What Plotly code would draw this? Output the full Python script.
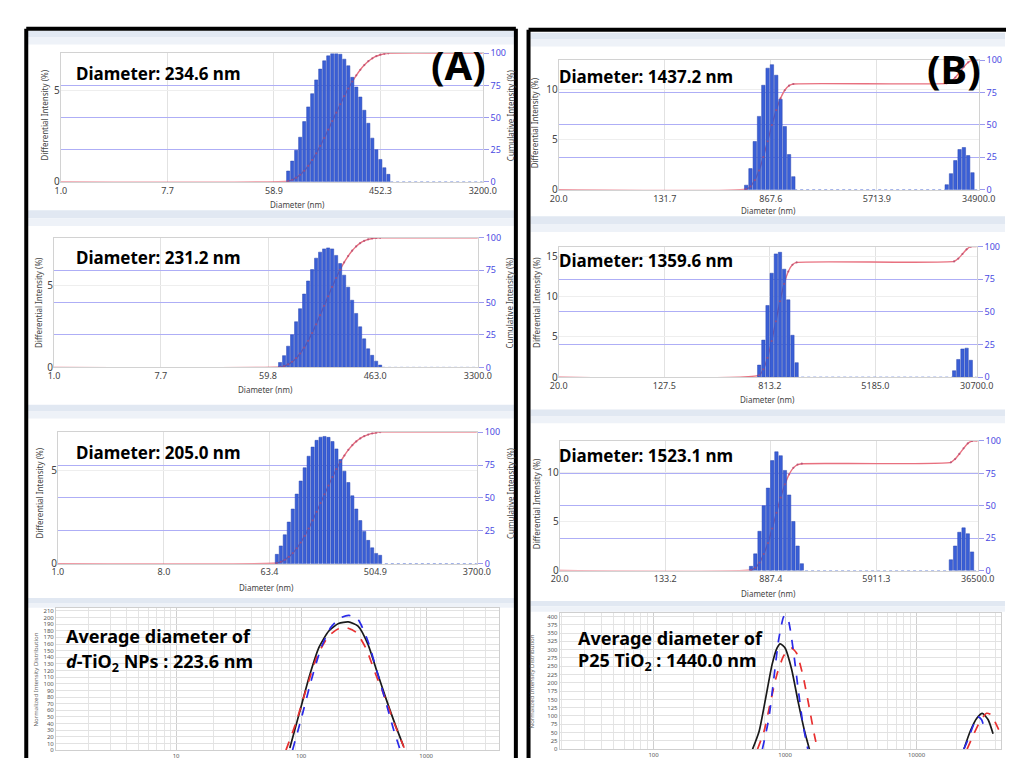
import numpy as np
import plotly.graph_objects as go

W, H = 1014, 758

# ---------------- data ----------------
# Panel A : d-TiO2 NPs, three DLS runs (bin centre diameter in nm, differential intensity %)
a1_diam = [77.4, 83.6, 90.2, 97.4, 105.2, 113.6, 122.6, 132.4, 142.9, 154.3, 166.6, 179.9, 194.2,
           209.7, 226.4, 244.4, 263.9, 284.9, 307.6, 332.1, 358.6, 387.1, 418.0, 451.3, 487.2, 526.1]
a1_int = [0.59, 1.13, 1.72, 2.43, 3.28, 4.08, 4.80, 5.55, 6.14, 6.59, 6.86, 6.98, 6.98,
          6.95, 6.68, 6.32, 5.69, 5.16, 4.62, 3.90, 3.19, 2.38, 1.75, 1.22, 0.77, 0.41]
a1_xticks = ["1.0", "7.7", "58.9", "452.3", "3200.0"]
a1_label = "Diameter: 234.6 nm"

a2_diam = [75.3, 81.3, 87.8, 94.7, 102.3, 110.4, 119.2, 128.6, 138.9, 149.9, 161.8, 174.7, 188.6,
           203.5, 219.7, 237.2, 256.0, 276.4, 298.3, 322.0, 347.6, 375.3, 405.1, 437.3, 472.1, 509.6]
a2_int = [0.30, 0.72, 1.30, 2.00, 2.80, 3.60, 4.50, 5.30, 6.00, 6.70, 7.07, 7.27, 7.33,
          7.27, 6.87, 6.37, 5.66, 4.92, 4.12, 3.31, 2.49, 1.75, 1.14, 0.74, 0.38, 0.14]
a2_xticks = ["1.0", "7.7", "59.8", "463.0", "3300.0"]
a2_label = "Diameter: 231.2 nm"

a3_diam = [73.2, 79.1, 85.5, 92.5, 100.0, 108.1, 116.8, 126.3, 136.5, 147.6, 159.5, 172.5, 186.4, 201.5,
           217.9, 235.5, 254.6, 275.2, 297.5, 321.6, 347.6, 375.8, 406.2, 439.1, 474.7, 513.2, 554.7]
a3_int = [0.50, 0.95, 1.55, 2.23, 2.93, 3.73, 4.43, 5.14, 5.76, 6.25, 6.61, 6.78, 6.82, 6.77,
          6.55, 6.15, 5.58, 4.96, 4.35, 3.64, 2.93, 2.31, 1.73, 1.25, 0.85, 0.55, 0.45]
a3_xticks = ["1.0", "8.0", "63.4", "504.9", "3700.0"]
a3_label = "Diameter: 205.0 nm"

# Panel B : P25 TiO2, three DLS runs (two populations each)
b1_diam_main = [559.8, 604.1, 652.0, 703.6, 759.3, 819.4, 884.3, 954.4, 1030, 1111, 1199, 1294]
b1_int_main = [0.45, 2.1, 4.8, 7.3, 10.4, 12.1, 12.45, 11.4, 9.0, 6.3, 3.5, 1.3]
b1_diam_agg = [19770, 21340, 23030, 24850, 26820, 28940, 31230]
b1_int_agg = [0.5, 1.6, 2.9, 4.0, 4.2, 3.4, 1.7]
b1_xticks = ["20.0", "131.7", "867.6", "5713.9", "34900.0"]
b1_label = "Diameter: 1437.2 nm"

b2_diam_main = [674.5, 725.6, 780.5, 839.6, 903.2, 971.6, 1045, 1124, 1209, 1301]
b2_int_main = [1.5, 4.6, 8.9, 12.9, 15.3, 15.5, 13.4, 9.6, 5.2, 1.8]
b2_diam_agg = [20650, 22210, 23890, 25700, 27650]
b2_int_agg = [0.8, 2.2, 3.5, 3.6, 2.1]
b2_xticks = ["20.0", "127.5", "813.2", "5185.0", "30700.0"]
b2_label = "Diameter: 1359.6 nm"

b3_diam_main = [622.3, 671.4, 724.4, 781.5, 843.2, 909.7, 981.5, 1059, 1143, 1233, 1330, 1435, 1548]
b3_int_main = [0.43, 1.7, 4.0, 6.6, 8.4, 11.2, 12.1, 11.7, 10.2, 7.7, 5.0, 2.5, 0.7]
b3_diam_agg = [22540, 24320, 26240, 28310, 30540, 32950]
b3_int_agg = [1.1, 2.5, 3.9, 4.35, 3.75, 1.9]
b3_xticks = ["20.0", "133.2", "887.4", "5911.3", "36500.0"]
b3_label = "Diameter: 1523.1 nm"

# Averaged distributions (normalized intensity)
a_avg_black_d = [81.2, 97.2, 116.2, 139.1, 166.5, 199.2, 238.5, 285.2, 341.2, 408.2, 488.5, 567.2, 659.0]
a_avg_black_y = [3.4, 57.3, 111.1, 155.2, 179.6, 190.9, 193.3, 187.0, 160.1, 116.0, 72.0, 37.7, 5.9]
a_avg_blue_d = [85.3, 100.2, 119.9, 143.5, 171.7, 205.4, 241.3, 285.2, 341.2, 408.2, 488.5, 550.3, 620.6]
a_avg_blue_y = [0, 47.5, 103.8, 152.7, 184.5, 199.2, 203.1, 196.8, 165.0, 116.0, 64.6, 30.3, 0]
a_avg_red_d = [75.6, 90.4, 109.6, 135.0, 166.5, 199.2, 231.4, 276.8, 331.1, 396.1, 474.0, 550.3, 678.9]
a_avg_red_y = [0, 40.1, 91.5, 142.9, 172.3, 183.1, 184.5, 177.2, 152.7, 113.6, 76.8, 42.6, 0]
a_avg_xticks = ["1", "10", "100", "1000"]

b_avg_black_d = [566, 635, 711, 797, 868, 919, 1000, 1121, 1257, 1407, 1531]
b_avg_black_y = [0, 54.1, 152.3, 255.5, 304.7, 317.4, 304.7, 240.8, 142.5, 54.1, 0]
b_avg_black_d2 = [22860, 25550, 28660, 31550, 34970, 38090]
b_avg_black_y2 = [0, 54.1, 93.4, 108.1, 88.5, 46.2]
b_avg_blue_d = [672, 753, 820, 893, 972, 1000, 1059, 1153, 1257, 1368, 1489]
b_avg_blue_y = [0, 93.4, 211.3, 329.2, 398.0, 402.9, 388.2, 299.8, 181.8, 73.7, 0]
b_avg_blue_d2 = [22860, 24890, 27080, 29140, 31170, 33010]
b_avg_blue_y2 = [0, 34.4, 73.7, 98.3, 88.5, 54.1]
b_avg_red_d = [617, 692, 775, 868, 972, 1059, 1121, 1221, 1368, 1531, 1667, 1766]
b_avg_red_y = [0, 54.1, 142.5, 226.0, 280.1, 299.8, 304.7, 289.9, 221.1, 122.9, 44.2, 0]
b_avg_red_d2 = [24180, 27080, 30290, 33960, 37010, 40350, 43880]
b_avg_red_y2 = [0, 44.2, 83.5, 108.1, 103.2, 73.7, 44.2]
b_avg_xticks = ["100", "1000", "10000"]

# ---------------- helpers ----------------
FONT = "Noto Sans"
fig = go.Figure()
layout = {}
annotations = []
shapes = []


def X(p):
    return p / W


def Y(p):
    return 1 - p / H


def yname(n):
    return 'y' if n == 1 else f'y{n}'


def xname(n):
    return 'x' if n == 1 else f'x{n}'


def key(prefix, n):
    return prefix if n == 1 else f'{prefix}{n}'


def ann(text, xp, yp, size, xanchor='left', color='black', angle=0, family=FONT):
    annotations.append(dict(text=text, x=X(xp), y=Y(yp), xref='paper', yref='paper',
                            xanchor=xanchor, yanchor='middle', showarrow=False, textangle=angle,
                            font=dict(size=size, color=color, family=family)))


def hist_panel(k, groups, xticks, ymax, box, label, label_pos, xtitle_pos, ytitle_pos, rtitle_pos=None):
    xid = k + 1
    yb, yd, ym = 3 * k + 1, 3 * k + 2, 3 * k + 3
    xv = [np.log10(float(t)) for t in xticks]
    xmin, xmax = xv[0], xv[-1]
    diam = np.concatenate([np.asarray(g[0], float) for g in groups])
    inten = np.concatenate([np.asarray(g[1], float) for g in groups])
    lx = np.log10(diam)
    cum = np.cumsum(inten) / inten.sum() * 100

    fig.add_trace(go.Scatter(x=np.r_[xmin, lx, xmax], y=np.r_[0, cum, 100], xaxis=xname(xid), yaxis=yname(yb),
                             mode='lines', line=dict(color='#e8707f', width=1.4, shape='spline', smoothing=0.5),
                             showlegend=False, hoverinfo='skip'))
    fig.add_trace(go.Bar(x=lx, y=inten, xaxis=xname(xid), yaxis=yname(yd),
                         marker=dict(color='#3a5fd6', line=dict(color='#2a47b0', width=0.5)),
                         showlegend=False))
    fig.add_trace(go.Scatter(x=[lx[0], xmax], y=[0, 0], xaxis=xname(xid), yaxis=yname(yd), mode='lines',
                             line=dict(color='#6a84da', width=1, dash='dot'), showlegend=False, hoverinfo='skip'))
    fig.add_trace(go.Scatter(x=lx, y=cum, xaxis=xname(xid), yaxis=yname(ym), mode='markers',
                             marker=dict(size=2.2, color='#b04a70', opacity=0.75), showlegend=False))

    x0, x1, y0, y1 = box
    layout[key('xaxis', xid)] = dict(domain=[X(x0), X(x1)], range=[xmin, xmax], tickvals=xv, ticktext=xticks,
                                     anchor=yname(yb), showgrid=True, gridcolor='#e2e2e2', zeroline=False,
                                     showline=True, linecolor='#d2d2d2', mirror=True, ticks='',
                                     tickfont=dict(size=9, color='#444', family=FONT))
    layout[key('yaxis', yb)] = dict(domain=[Y(y1), Y(y0)], range=[0, 100], tickvals=[0, 25, 50, 75, 100],
                                    side='right', anchor=xname(xid), showgrid=True, gridcolor='#aeaef6',
                                    gridwidth=1.3, zeroline=False, showline=True, linecolor='#d2d2d2',
                                    mirror=True, ticks='outside', ticklen=5, tickcolor='#9a9aee',
                                    tickfont=dict(size=9, color='#4a4ae2', family=FONT))
    layout[key('yaxis', yd)] = dict(overlaying=yname(yb), anchor=xname(xid), side='left', range=[0, ymax],
                                    dtick=5, showgrid=True, gridcolor='#eeeeee', zeroline=False,
                                    showline=False, ticks='', tickfont=dict(size=10, color='#444', family=FONT))
    layout[key('yaxis', ym)] = dict(overlaying=yname(yb), anchor=xname(xid), range=[0, 100], visible=False)

    ann('<b>' + label + '</b>', label_pos[0], label_pos[1], 17)
    ann('Diameter (nm)', xtitle_pos[0], xtitle_pos[1], 8, xanchor='center', color='#444')
    ann('Differential Intensity (%)', ytitle_pos[0], ytitle_pos[1], 8, xanchor='center', color='#444', angle=-90)
    if rtitle_pos is not None:
        ann('Cumulative Intensity (%)', rtitle_pos[0], rtitle_pos[1], 8, xanchor='center', color='#444', angle=-90)


def avg_panel(xid, yid, curves, box, xrange, yrange, ydtick, xticks, ytitle_x):
    for d, v, color, dash in curves:
        fig.add_trace(go.Scatter(x=d, y=v, xaxis=xname(xid), yaxis=yname(yid), mode='lines',
                                 line=dict(color=color, width=1.7, dash=dash, shape='spline', smoothing=0.6),
                                 connectgaps=False, showlegend=False))
    x0, x1, y0, y1 = box
    minor_vals = [m * 10 ** e for e in range(0, 5) for m in range(2, 10)]
    layout[key('xaxis', xid)] = dict(type='log', domain=[X(x0), X(x1)], range=xrange,
                                     tickvals=[float(t) for t in xticks], ticktext=xticks, anchor=yname(yid),
                                     showgrid=True, gridcolor='#cfcfcf', zeroline=False, showline=True,
                                     linecolor='#cfcfcf', mirror=True, ticks='',
                                     minor=dict(tickvals=minor_vals, showgrid=True, gridcolor='#e4e4e4', ticks=''),
                                     tickfont=dict(size=6, color='#555', family=FONT))
    layout[key('yaxis', yid)] = dict(domain=[Y(y1), Y(y0)], range=yrange, dtick=ydtick, anchor=xname(xid),
                                     showgrid=True, gridcolor='#e2e2e2', zeroline=False, showline=True,
                                     linecolor='#cfcfcf', mirror=True, ticks='',
                                     tickfont=dict(size=6, color='#555', family=FONT))
    ann('Normalized Intensity Distribution', ytitle_x, (y0 + y1) / 2, 6, xanchor='center', color='#666', angle=-90)


# ---------------- panels ----------------
hist_panel(0, [(a1_diam, a1_int)], a1_xticks, 7.0, (45, 478, 39, 170), a1_label, (58, 60),
           (288, 193), (28, 102), (506, 102))
hist_panel(1, [(a2_diam, a2_int)], a2_xticks, 7.95, (38, 473, 227, 359), a2_label, (58, 247),
           (255, 382), (22, 293), (506, 293))
hist_panel(2, [(a3_diam, a3_int)], a3_xticks, 7.05, (42, 472, 425, 559), a3_label, (58, 446),
           (256, 583), (23, 487), (506, 487))
hist_panel(3, [(b1_diam_main, b1_int_main), (b1_diam_agg, b1_int_agg)], b1_xticks, 12.9,
           (556, 987, 46, 178), b1_label, (554, 63), (771, 199), (532, 110))
hist_panel(4, [(b2_diam_main, b2_int_main), (b2_diam_agg, b2_int_agg)], b2_xticks, 16.2,
           (556, 985, 236, 369), b2_label, (554, 250), (770, 392), (533, 293))
hist_panel(5, [(b3_diam_main, b3_int_main), (b3_diam_agg, b3_int_agg)], b3_xticks, 13.2,
           (557, 986, 434, 566), b3_label, (554, 449), (771, 589), (533, 498))

avg_panel(7, 19, [(a_avg_black_d, a_avg_black_y, '#1a1a1a', 'solid'),
                  (a_avg_red_d, a_avg_red_y, '#e83030', 'dash'),
                  (a_avg_blue_d, a_avg_blue_y, '#2a2ae8', 'dash')],
          (40, 495, 604, 749), [0.039, 3.585], [0, 214.5], 10, a_avg_xticks, 20)


def seg(a, b):
    return list(a) + [None] + list(b)


avg_panel(8, 20, [(seg(b_avg_black_d, b_avg_black_d2), seg(b_avg_black_y, b_avg_black_y2), '#1a1a1a', 'solid'),
                  (seg(b_avg_red_d, b_avg_red_d2), seg(b_avg_red_y, b_avg_red_y2), '#e83030', 'dash'),
                  (seg(b_avg_blue_d, b_avg_blue_d2), seg(b_avg_blue_y, b_avg_blue_y2), '#2a2ae8', 'dash')],
          (557, 1010, 609, 748), [1.287, 4.642], [0, 411], 25, b_avg_xticks, 529)

# text in the averaged panels
ann('<b>Average diameter of</b>', 48, 633, 18)
ann('<b><i>d</i>-TiO<sub>2</sub> NPs : 223.6 nm</b>', 48, 660, 18)
ann('<b>Average diameter of</b>', 574, 635, 18)
ann('<b>P25 TiO<sub>2</sub> : 1440.0 nm</b>', 574, 659, 18)

# panel letters
ann('<b>(A)</b>', 453, 50, 40, xanchor='center')
ann('<b>(B)</b>', 962, 55, 40, xanchor='center')

# light header bands of each screenshot window
for (xa, xb, bands) in [(11, 510, [(16, 30), (199, 215), (397, 411), (594, 604)]),
                        (527, 1014, [(18, 32), (205, 221), (402, 416), (597, 608)])]:
    for (ya, yb_) in bands:
        mid = (ya + yb_) / 2
        shapes.append(dict(type='rect', xref='paper', yref='paper', x0=X(xa), x1=X(xb), y0=Y(mid), y1=Y(ya),
                           fillcolor='#e1e8f2', line=dict(width=0), layer='below'))
        shapes.append(dict(type='rect', xref='paper', yref='paper', x0=X(xa), x1=X(xb), y0=Y(yb_), y1=Y(mid),
                           fillcolor='#eef2f8', line=dict(width=0), layer='below'))

# thick black panel borders
border = dict(color='black', width=4)
for (xa, ya, xb, yb_) in [(9.5, 14, 9.5, 760), (9.5, 14, 512, 14), (512, 14, 512, 760),
                          (525, 15, 525, 760), (525, 15, 1016, 15)]:
    shapes.append(dict(type='line', xref='paper', yref='paper', x0=X(xa), y0=Y(ya), x1=X(xb), y1=Y(yb_),
                       line=border, layer='above'))

fig.update_layout(**layout)
fig.update_layout(width=W, height=H, margin=dict(l=0, r=0, t=0, b=0), paper_bgcolor='white',
                  plot_bgcolor='white', bargap=0.2, showlegend=False, annotations=annotations,
                  shapes=shapes, font=dict(family=FONT))

fig.write_html("out.html")
